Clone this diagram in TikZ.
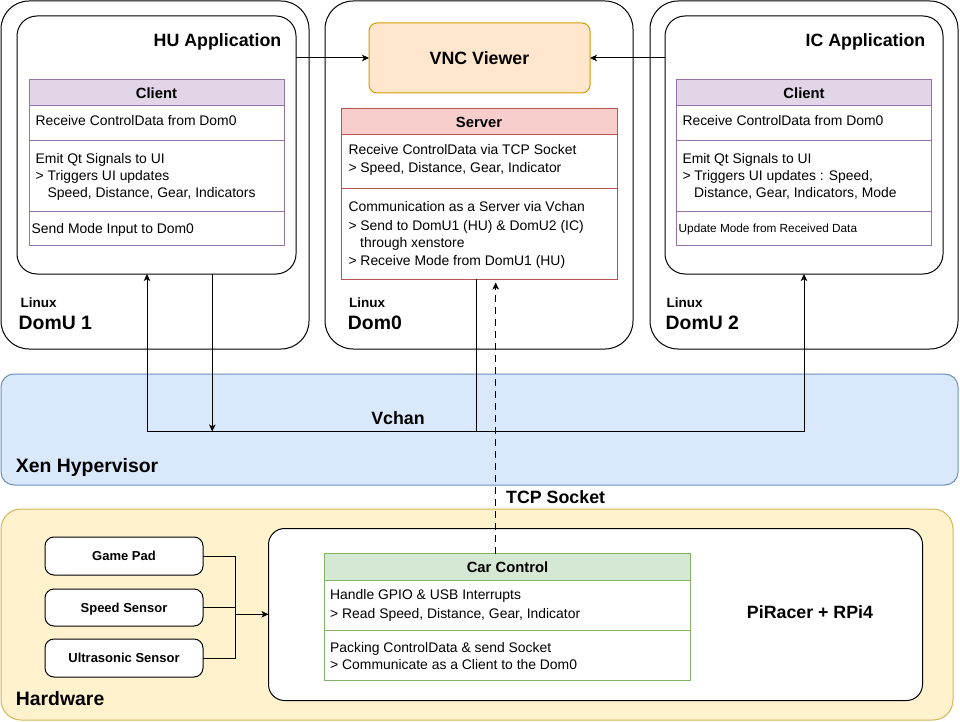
\documentclass[tikz,border=0pt]{standalone}
\usepackage{fontspec}
\setmainfont{Liberation Sans}
\usetikzlibrary{arrows.meta}
\definecolor{xenfill}{HTML}{DAE8FC}
\definecolor{xenline}{HTML}{6C8EBF}
\definecolor{hwfill}{HTML}{FFF2CC}
\definecolor{hwline}{HTML}{D6B656}
\definecolor{vncfill}{HTML}{FFE6CC}
\definecolor{vncline}{HTML}{D79B00}
\definecolor{pfill}{HTML}{E1D5E7}
\definecolor{pline}{HTML}{9673A6}
\definecolor{rfill}{HTML}{F8CECC}
\definecolor{rline}{HTML}{B85450}
\definecolor{gfill}{HTML}{D5E8D4}
\definecolor{gline}{HTML}{82B366}
\newcommand\myfs[1]{\fontsize{#1}{#1}\selectfont}
\tikzset{
  box/.style={draw, line width=1pt, anchor=north west, inner sep=0pt, outer sep=0pt},
  cell/.style={box, fill=white},
  txt/.style={anchor=west, inner sep=0pt, text height=9.95pt, text depth=0pt, font=\myfs{13.9}},
  smalltxt/.style={anchor=west, inner sep=0pt, text height=8.45pt, text depth=0pt, font=\myfs{11.8}},
  hdr/.style={text height=10.6pt, text depth=0pt, font=\bfseries\myfs{14.8}},
  title/.style={inner sep=0pt, text height=12.75pt, text depth=0pt, font=\bfseries\myfs{17.8}},
  big/.style={anchor=west, inner sep=0pt, text height=13.9pt, text depth=0pt, font=\bfseries\myfs{19.4}},
  linux/.style={anchor=west, inner sep=0pt, text height=9.67pt, text depth=0pt, font=\bfseries\myfs{13.5}},
  sensor/.style={box, fill=white, rounded corners=9pt, minimum width=158pt, text height=9.3pt, text depth=0pt, font=\bfseries\myfs{13}},
  arr/.style={line width=1pt, -{Stealth[length=7pt,width=6.5pt,inset=1.8pt]}},
  link/.style={line width=1pt},
  tcpdash/.style={dash pattern=on 7pt off 5pt}
}
\begin{document}
\begin{tikzpicture}[x=1pt,y=-1pt]
\useasboundingbox (0,0) rectangle (960,722);
\fill[white] (0,0) rectangle (960,722);

% ---------- DomU 1 ----------
\node[box, fill=white, rounded corners=28pt, minimum width=308pt, minimum height=348pt] (domu1) at (1,1) {};
\node[box, fill=white, rounded corners=20pt, minimum width=279pt, minimum height=258pt] (hu) at (17,16) {};
\node[title, anchor=east] (hut) at (281.5,40) {HU Application};
\node[cell, draw=pline, fill=pfill, minimum width=255pt, minimum height=26pt, hdr] (c1h) at (29,80) {Client};
\node[cell, draw=pline, minimum width=255pt, minimum height=35pt] (c1a) at (29,106) {};
\node[cell, draw=pline, minimum width=255pt, minimum height=70pt] (c1b) at (29,141) {};
\node[cell, draw=pline, minimum width=255pt, minimum height=34pt] (c1c) at (29,211) {};
\node[txt] (c1t1) at (35.5,121) {Receive ControlData from Dom0};
\node[txt] (c1t2) at (35.5,159) {Emit Qt Signals to UI};
\node[txt] (c1t3) at (35.5,176) {> Triggers UI updates};
\node[txt] (c1t4) at (47.5,193) {Speed, Distance, Gear, Indicators};
\node[txt] (c1t5) at (31.5,229) {Send Mode Input to Dom0};
\node[linux] (lx1) at (20.5,302.5) {Linux};
\node[big] (dn1) at (18.5,322.7) {DomU 1};

% ---------- Dom0 ----------
\node[box, fill=white, rounded corners=28pt, minimum width=308pt, minimum height=348pt] (dom0) at (325,1) {};
\node[box, draw=vncline, fill=vncfill, rounded corners=8pt, minimum width=221pt, minimum height=70pt, title] (vnc) at (369,23) {VNC Viewer};
\node[cell, draw=rline, fill=rfill, minimum width=276pt, minimum height=26pt, hdr] (sh) at (341,109) {Server};
\node[cell, draw=rline, minimum width=276pt, minimum height=53pt] (sa) at (341,135) {};
\node[cell, draw=rline, minimum width=276pt, minimum height=91pt] (sb) at (341,188) {};
\node[txt] (st1) at (348.3,150) {Receive ControlData via TCP Socket};
\node[txt] (st2) at (348.3,167.7) {> Speed, Distance, Gear, Indicator};
\node[txt] (st3) at (348.3,206.7) {Communication as a Server via Vchan};
\node[txt] (st4) at (348.3,225.3) {> Send to DomU1 (HU) \& DomU2 (IC)};
\node[txt] (st5) at (360,242.7) {through xenstore};
\node[txt] (st6) at (348.3,260.7) {> Receive Mode from DomU1 (HU)};
\node[linux] (lx0) at (349,302.5) {Linux};
\node[big] (dn0) at (347.7,322.7) {Dom0};

% ---------- DomU 2 ----------
\node[box, fill=white, rounded corners=28pt, minimum width=308pt, minimum height=348pt] (domu2) at (650,1) {};
\node[box, fill=white, rounded corners=20pt, minimum width=278pt, minimum height=258pt] (ic) at (665,16) {};
\node[title, anchor=east] (ict) at (925.5,40) {IC Application};
\node[cell, draw=pline, fill=pfill, minimum width=255pt, minimum height=26pt, hdr] (c2h) at (676.5,80) {Client};
\node[cell, draw=pline, minimum width=255pt, minimum height=35pt] (c2a) at (676.5,106) {};
\node[cell, draw=pline, minimum width=255pt, minimum height=70pt] (c2b) at (676.5,141) {};
\node[cell, draw=pline, minimum width=255pt, minimum height=34pt] (c2c) at (676.5,211) {};
\node[txt] (c2t1) at (682.3,121) {Receive ControlData from Dom0};
\node[txt] (c2t2) at (682.3,159) {Emit Qt Signals to UI};
\node[txt] (c2t3) at (682.3,176) {> Triggers UI updates : Speed,};
\node[txt] (c2t4) at (694,193) {Distance, Gear, Indicators, Mode};
\node[smalltxt] (c2t5) at (678.5,228.7) {Update Mode from Received Data};
\node[linux] (lx2) at (666.5,302.5) {Linux};
\node[big] (dn2) at (665.5,322.7) {DomU 2};

% ---------- Xen ----------
\node[box, draw=xenline, fill=xenfill, rounded corners=13pt, minimum width=957pt, minimum height=111pt] (xen) at (1,374) {};
\node[big] (xent) at (15.7,466) {Xen Hypervisor};
\node[title] (vch) at (398,418) {Vchan};

% ---------- Hardware ----------
\node[box, draw=hwline, fill=hwfill, rounded corners=20pt, minimum width=952pt, minimum height=211pt] (hw) at (1,509) {};
\node[big] (hwt) at (15.7,699) {Hardware};
\node[box, fill=white, rounded corners=16pt, minimum width=654pt, minimum height=172pt] (pi) at (268.5,528.5) {};
\node[title] (pit) at (810,612.3) {PiRacer + RPi4};
\node[cell, draw=gline, fill=gfill, minimum width=366pt, minimum height=27pt, hdr] (ch) at (324.5,553.5) {Car Control};
\node[cell, draw=gline, minimum width=366pt, minimum height=50pt] (ca) at (324.5,580.5) {};
\node[cell, draw=gline, minimum width=366pt, minimum height=50pt] (cb) at (324.5,630.5) {};
\node[txt] (ct1) at (330,595) {Handle GPIO \& USB Interrupts};
\node[txt] (ct2) at (330,613.3) {> Read Speed, Distance, Gear, Indicator};
\node[txt] (ct3) at (330,647.3) {Packing ControlData \& send Socket};
\node[txt] (ct4) at (330,665) {> Communicate as a Client to the Dom0};
\node[title, anchor=west] (tcp) at (506,497) {TCP Socket};

\node[sensor, minimum height=38pt] (gp) at (45,537) {Game Pad};
\node[sensor, minimum height=37pt] (sp) at (45,589) {Speed Sensor};
\node[sensor, minimum height=38pt] (us) at (45,639) {Ultrasonic Sensor};

% ---------- connectors ----------
\draw[arr] (hu.east |- vnc.west) -- (vnc.west);
\draw[arr] (ic.west |- vnc.east) -- (vnc.east);

\coordinate (vj) at (476.7,431.5);
\coordinate (vl) at (147,431.5);
\coordinate (vr) at (804,431.5);
\coordinate (vh) at (212.3,431.5);
\draw[arr] (sb.south -| vj) -- (vj) -- (vl) -- (vl |- hu.south);
\draw[arr] (vj) -- (vr) -- (vr |- ic.south);
\draw[arr] (vh |- hu.south) -- (vh);

\coordinate (tx) at (495.7,0);
\draw[arr, tcpdash, shorten >=3.5pt] (ch.north -| tx) -- (sb.south -| tx);

\coordinate (jn) at (235.7,614.3);
\draw[link] (gp.east) -| (jn);
\draw[link] (sp.east) -| (jn);
\draw[link] (us.east) -| (jn);
\draw[arr] (jn) -- (jn -| pi.west);
\end{tikzpicture}
\end{document}
